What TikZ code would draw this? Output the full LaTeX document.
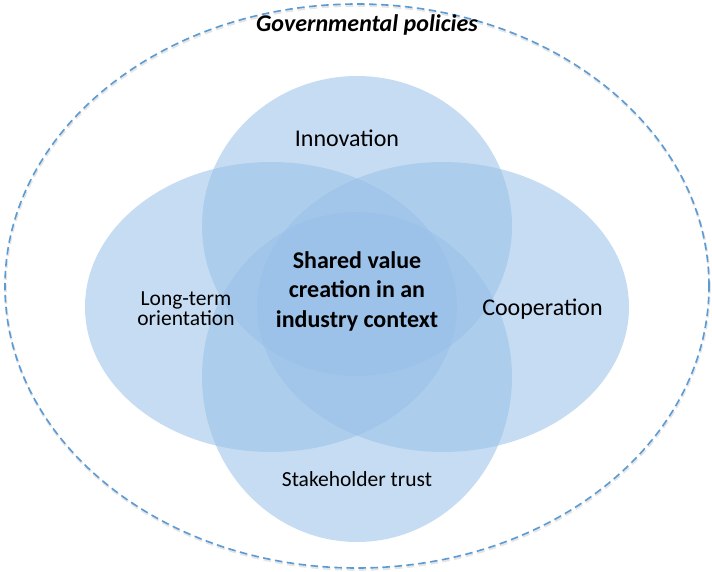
\documentclass[tikz,border=0pt]{standalone}
\usepackage{fontspec}
\setmainfont{Carlito}
\usetikzlibrary{shapes.geometric,positioning}
\definecolor{vennblue}{RGB}{152,192,232}
\definecolor{dashblue}{RGB}{91,155,213}
\tikzset{
  venn/.style={ellipse, fill=vennblue, fill opacity=0.55, inner sep=0pt, outer sep=0pt},
  frame/.style={ellipse, dash pattern=on 7.5pt off 4.5pt, minimum width=704pt,
    minimum height=564pt, inner sep=0pt},
  lbl/.style={font=\fontsize{21.5}{20}\selectfont, align=center},
  biglbl/.style={font=\fontsize{24}{28}\selectfont},
  core/.style={font=\fontsize{24}{29.5}\selectfont\bfseries, align=center},
}

\begin{document}
\begin{tikzpicture}[x=1pt,y=-1pt]
    \def\crx{310pt}
    \useasboundingbox (0,0) rectangle (712,572);
    % outer frame with its shadow
    \node[frame, draw=black!10, line width=2.6pt] (shade) at (357.5,287.5) {};
    \node[frame, draw=dashblue, line width=1.6pt] (policies) at (357,286) {};
    % the four circles
    \node[venn, minimum width=372pt, minimum height=290pt] (longterm) at (271,307) {};
    \node[venn, minimum width=372pt, minimum height=290pt] (coop) at (443,307) {};
    \node[venn, minimum width=\crx, minimum height=300pt] (innov) at (357,226) {};
    \node[venn, minimum width=\crx, minimum height=330pt] (trust) at (357,377) {};
    % labels
    \node[font=\fontsize{24}{28}\selectfont\bfseries\itshape, anchor=base] (policiestxt) at (367,32) {Governmental policies};
    \node[biglbl, anchor=base] (innovtxt) at (347,147) {Innovation};
    \node[biglbl, anchor=base] (cooptxt) at (542.5,315) {Cooperation};
    \node[lbl, anchor=base] (trusttxt) at (357,486) {Stakeholder trust};
    \node[lbl] (longtermtxt) at (186,309) {Long-term\\orientation};
    \node[core] (shared) at (357,291) {Shared value\\creation in an\\industry context};
\end{tikzpicture}
\end{document}
